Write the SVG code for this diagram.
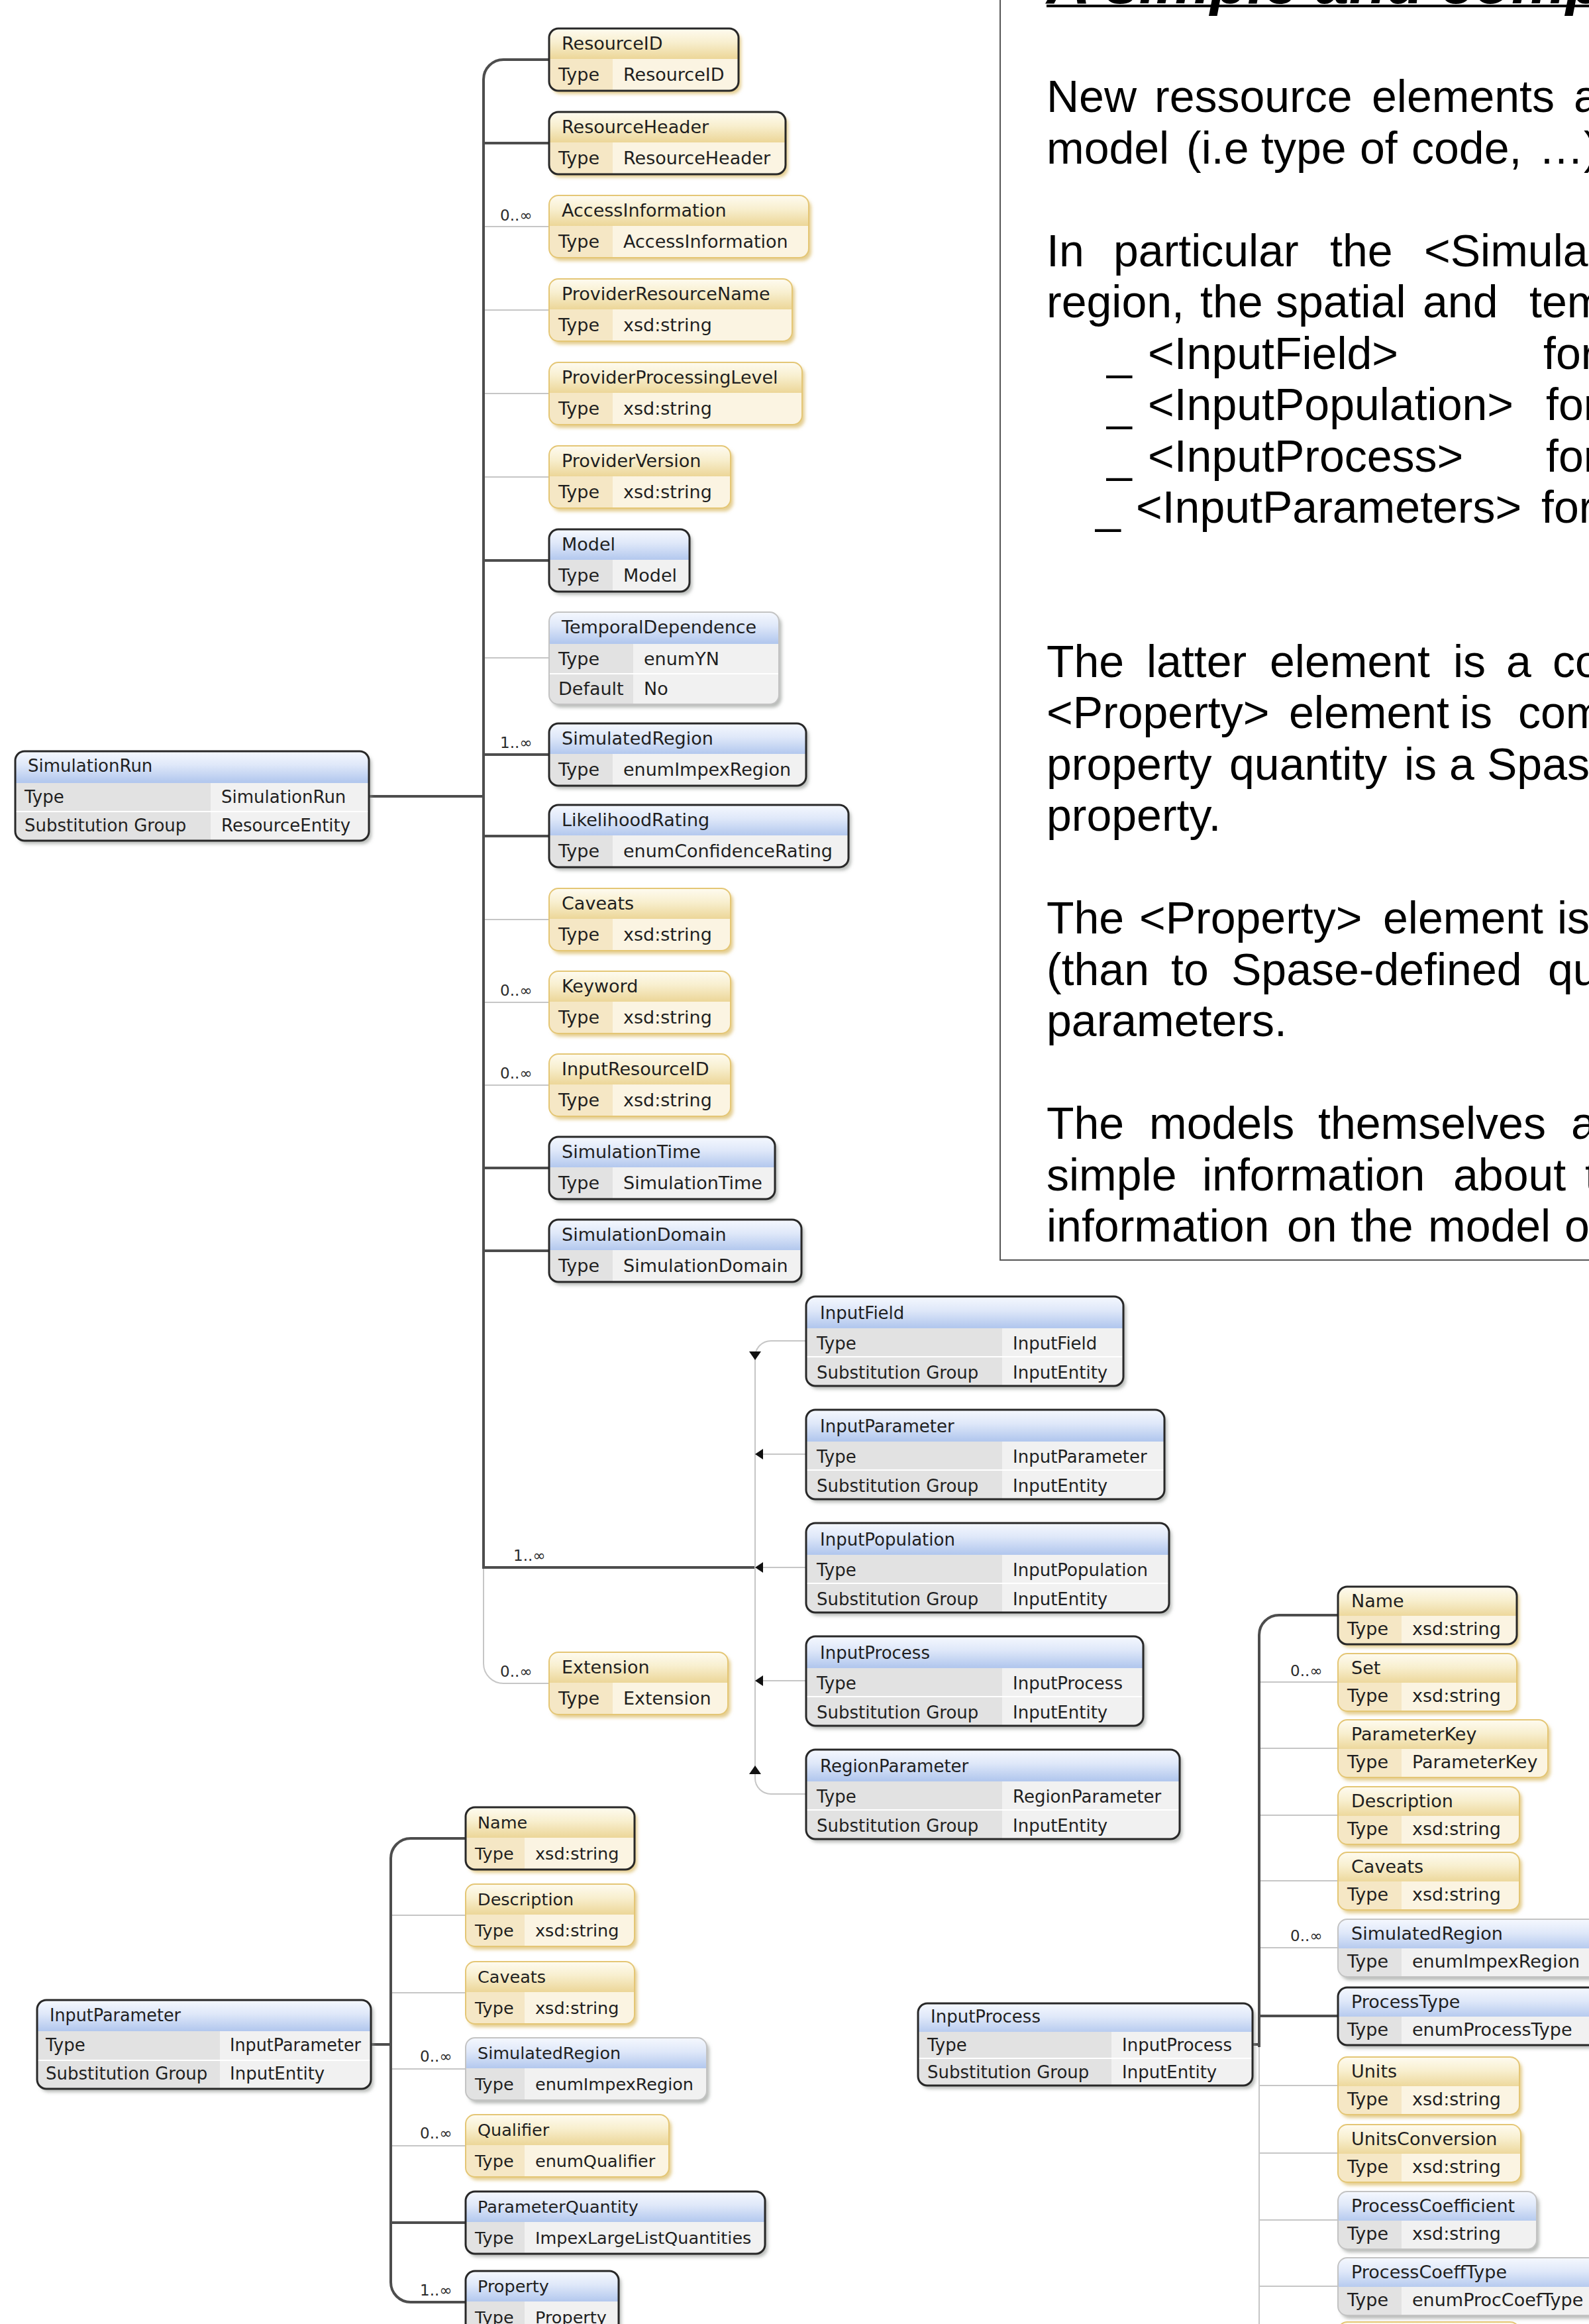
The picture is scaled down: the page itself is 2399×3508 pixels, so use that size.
<svg xmlns="http://www.w3.org/2000/svg" width="2399" height="3508" viewBox="0 0 2399 3508">
<defs>
<style>
.node text{font-family:"DejaVu Sans","Liberation Sans",sans-serif;font-size:27px;fill:#1f1f1f}
.s text{font-size:26px}
.s2 text{font-size:25.5px}
.y .base{fill:#fbf4e2;filter:url(#sy)}
.b .base{fill:#f1f1f1;filter:url(#sb)}
.y .hd{fill:url(#gy)}
.b .hd{fill:url(#gb)}
.y .lc{fill:#f5e7c5}
.b .lc{fill:#e2e2e2}
.bd{fill:none}
.r .bd{stroke:#282828;stroke-width:3}
.y.o .bd{stroke:#e4c675;stroke-width:2}
.b.o .bd{stroke:#c3c3c3;stroke-width:2}
.sep{stroke:#ffffff;stroke-width:2}
.thick{fill:none;stroke:#4d4d4d;stroke-width:4}
.thin{fill:none;stroke:#c6c6c6;stroke-width:2}
.arr{fill:#111}
.card{font-family:"DejaVu Sans",sans-serif;font-size:23px;fill:#2a2a2a}
.body{font-family:"Liberation Sans",Arial,sans-serif;font-size:68px;fill:#000}
.title{font-family:"Liberation Sans",Arial,sans-serif;font-size:92px;font-weight:bold;font-style:italic;fill:#000}
</style>
<linearGradient id="gy" gradientUnits="userSpaceOnUse" x1="0" y1="0" x2="0" y2="46">
<stop offset="0" stop-color="#fefbf0"/><stop offset="0.45" stop-color="#f8efcf"/><stop offset="1" stop-color="#ecd698"/>
</linearGradient>
<linearGradient id="gb" gradientUnits="userSpaceOnUse" x1="0" y1="0" x2="0" y2="46">
<stop offset="0" stop-color="#f5f8fe"/><stop offset="0.45" stop-color="#dfe8f9"/><stop offset="1" stop-color="#b3c8ee"/>
</linearGradient>
<filter id="sy" x="-10%" y="-10%" width="125%" height="130%"><feDropShadow dx="4" dy="5" stdDeviation="2.5" flood-color="#d9b860" flood-opacity="0.7"/></filter>
<filter id="sb" x="-10%" y="-10%" width="125%" height="130%"><feDropShadow dx="4" dy="5" stdDeviation="2.5" flood-color="#8a8f8a" flood-opacity="0.6"/></filter>
<path id="L1" d="M0,46h96v48h-82a14,14 0 0 1 -14,-14z"/>
<path id="L2" d="M0,48h127v91h-113a14,14 0 0 1 -14,-14z"/>
<path id="L3" d="M0,48h295v87h-281a14,14 0 0 1 -14,-14z"/>
<path id="L4" d="M0,48h296v87h-282a14,14 0 0 1 -14,-14z"/>
<path id="L5" d="M0,47h276v87h-262a14,14 0 0 1 -14,-14z"/>
<path id="L6" d="M0,46h89v48h-75a14,14 0 0 1 -14,-14z"/>
<path id="L7" d="M0,43h292v81h-278a14,14 0 0 1 -14,-14z"/>
<path id="L8" d="M0,44h96v43h-82a14,14 0 0 1 -14,-14z"/>
</defs>
<rect width="2399" height="3508" fill="#ffffff"/>

<g id="text-panel">
<path d="M1510,0V1902H2399" fill="none" stroke="#555" stroke-width="2"/>
<text class="title" x="1580" y="5">A simple and comp</text>
<rect x="1580" y="7" width="819" height="4" fill="#000"/>
<text class="body" y="169"><tspan x="1580">New</tspan><tspan x="1743">ressource</tspan><tspan x="2071">elements</tspan><tspan x="2376">a</tspan></text>
<text class="body" y="246.5"><tspan x="1580">model</tspan><tspan x="1791">(i.e</tspan><tspan x="1904">type</tspan><tspan x="2053">of</tspan><tspan x="2131">code,</tspan><tspan x="2323">…)</tspan></text>
<text class="body" y="401.5"><tspan x="1580">In</tspan><tspan x="1681">particular</tspan><tspan x="2008">the</tspan><tspan x="2150">&lt;Simula</tspan></text>
<text class="body" y="479"><tspan x="1580">region,</tspan><tspan x="1812">the</tspan><tspan x="1926">spatial</tspan><tspan x="2148">and</tspan><tspan x="2309">tem</tspan></text>
<text class="body" y="556.5"><tspan x="1671">_</tspan><tspan x="1733">&lt;InputField&gt;</tspan><tspan x="2330">for</tspan></text>
<text class="body" y="634"><tspan x="1671">_</tspan><tspan x="1733">&lt;InputPopulation&gt;</tspan><tspan x="2334">for</tspan></text>
<text class="body" y="711.5"><tspan x="1671">_</tspan><tspan x="1733">&lt;InputProcess&gt;</tspan><tspan x="2334">for</tspan></text>
<text class="body" y="789"><tspan x="1654">_</tspan><tspan x="1715">&lt;InputParameters&gt;</tspan><tspan x="2327">for</tspan></text>
<text class="body" y="1021.5"><tspan x="1580">The</tspan><tspan x="1731">latter</tspan><tspan x="1917">element</tspan><tspan x="2194">is</tspan><tspan x="2274">a</tspan><tspan x="2344">co</tspan></text>
<text class="body" y="1099"><tspan x="1580">&lt;Property&gt;</tspan><tspan x="1946">element</tspan><tspan x="2204">is</tspan><tspan x="2292">com</tspan></text>
<text class="body" y="1176.5"><tspan x="1580">property</tspan><tspan x="1856">quantity</tspan><tspan x="2120">is</tspan><tspan x="2188">a</tspan><tspan x="2245">Spas</tspan></text>
<text class="body" y="1254"><tspan x="1580">property.</tspan></text>
<text class="body" y="1409"><tspan x="1580">The</tspan><tspan x="1720">&lt;Property&gt;</tspan><tspan x="2088">element</tspan><tspan x="2351">is</tspan></text>
<text class="body" y="1486.5"><tspan x="1580">(than</tspan><tspan x="1768">to</tspan><tspan x="1859">Spase-defined</tspan><tspan x="2337">qu</tspan></text>
<text class="body" y="1564"><tspan x="1580">parameters.</tspan></text>
<text class="body" y="1719"><tspan x="1580">The</tspan><tspan x="1735">models</tspan><tspan x="1990">themselves</tspan><tspan x="2372">a</tspan></text>
<text class="body" y="1796.5"><tspan x="1580">simple</tspan><tspan x="1815">information</tspan><tspan x="2194">about</tspan><tspan x="2393">t</tspan></text>
<text class="body" y="1874"><tspan x="1580">information</tspan><tspan x="1943">on</tspan><tspan x="2039">the</tspan><tspan x="2156">model</tspan><tspan x="2362">o</tspan></text>
</g>

<g id="connectors">
<path class="thin" d="M730,342H829M730,468H829M730,594H829M730,720H829M730,993H829M730,1388H829M730,1513H829M730,1638H829"/>
<path class="thin" d="M730,2366V2511A30,30 0 0 0 760,2541H829"/>
<path class="thick" d="M829,90H760A30,30 0 0 0 730,120V2366H1139"/>
<path class="thick" d="M730,216H829M730,846H829M730,1139H829M730,1262H829M730,1763H829M730,1888H829M557,1202H730"/>
<path class="thin" d="M1217,2024H1164A24,24 0 0 0 1140,2048V2684A24,24 0 0 0 1164,2708H1217"/>
<path class="thin" d="M1150,2195H1217M1150,2366H1217M1150,2537H1217"/>
<polygon class="arr" points="1131,2040 1149,2040 1140,2053"/>
<polygon class="arr" points="1140,2195 1152,2187 1152,2203"/>
<polygon class="arr" points="1140,2366 1152,2358 1152,2374"/>
<polygon class="arr" points="1140,2537 1152,2529 1152,2545"/>
<polygon class="arr" points="1131,2678 1149,2678 1140,2665"/>
<path class="thin" d="M590,2891H703M590,3008H703M590,3123H703M590,3239H703"/>
<path class="thick" d="M703,2775H620A30,30 0 0 0 590,2805V3445A30,30 0 0 0 620,3475H703"/>
<path class="thick" d="M590,3355H703M560,3086H590"/>
<path class="thin" d="M1901,3090V3508M1901,2539H2020M1901,2639H2020M1901,2740H2020M1901,2839H2020M1901,2940H2020M1901,3148H2020M1901,3250H2020M1901,3351H2020M1901,3451H2020"/>
<path class="thick" d="M2020,2438H1931A30,30 0 0 0 1901,2468V3090"/>
<path class="thick" d="M1901,3043H2020M1891,3086H1901"/>
</g>

<g id="cardinalities">
<text class="card" x="755" y="333">0..∞</text>
<text class="card" x="755" y="1129">1..∞</text>
<text class="card" x="755" y="1503">0..∞</text>
<text class="card" x="755" y="1628">0..∞</text>
<text class="card" x="775" y="2356">1..∞</text>
<text class="card" x="755" y="2531">0..∞</text>
<text class="card" x="634" y="3112">0..∞</text>
<text class="card" x="634" y="3228">0..∞</text>
<text class="card" x="634" y="3465">1..∞</text>
<text class="card" x="1948" y="2530">0..∞</text>
<text class="card" x="1948" y="2930">0..∞</text>
</g>

<g id="node-SimulationRun" class="node b r s" transform="translate(23,1134)">
<rect class="base" width="534" height="135" rx="14"/>
<path class="hd" d="M0,48V14a14,14 0 0 1 14,-14H520a14,14 0 0 1 14,14V48z"/>
<use href="#L3" class="lc"/>
<path class="sep" d="M0,91H534"/>
<rect class="bd" width="534" height="135" rx="14"/>
<text x="19" y="31">SimulationRun</text>
<text x="14" y="78">Type</text><text x="311" y="78">SimulationRun</text>
<text x="14" y="121">Substitution Group</text><text x="311" y="121">ResourceEntity</text>
</g>

<g id="node-ResourceID" class="node y r" transform="translate(829,43)">
<rect class="base" width="286" height="94" rx="14"/>
<path class="hd" d="M0,46V14a14,14 0 0 1 14,-14H272a14,14 0 0 1 14,14V46z"/>
<use href="#L1" class="lc"/>
<rect class="bd" width="286" height="94" rx="14"/>
<text x="19" y="32">ResourceID</text><text x="14" y="79">Type</text><text x="112" y="79">ResourceID</text>
</g>
<g id="node-ResourceHeader" class="node y r" transform="translate(829,169)">
<rect class="base" width="357" height="94" rx="14"/>
<path class="hd" d="M0,46V14a14,14 0 0 1 14,-14H343a14,14 0 0 1 14,14V46z"/>
<use href="#L1" class="lc"/>
<rect class="bd" width="357" height="94" rx="14"/>
<text x="19" y="32">ResourceHeader</text><text x="14" y="79">Type</text><text x="112" y="79">ResourceHeader</text>
</g>
<g id="node-AccessInformation" class="node y o" transform="translate(829,295)">
<rect class="base" width="392" height="94" rx="14"/>
<path class="hd" d="M0,46V14a14,14 0 0 1 14,-14H378a14,14 0 0 1 14,14V46z"/>
<use href="#L1" class="lc"/>
<rect class="bd" width="392" height="94" rx="14"/>
<text x="19" y="32">AccessInformation</text><text x="14" y="79">Type</text><text x="112" y="79">AccessInformation</text>
</g>
<g id="node-ProviderResourceName" class="node y o" transform="translate(829,421)">
<rect class="base" width="367" height="94" rx="14"/>
<path class="hd" d="M0,46V14a14,14 0 0 1 14,-14H353a14,14 0 0 1 14,14V46z"/>
<use href="#L1" class="lc"/>
<rect class="bd" width="367" height="94" rx="14"/>
<text x="19" y="32">ProviderResourceName</text><text x="14" y="79">Type</text><text x="112" y="79">xsd:string</text>
</g>
<g id="node-ProviderProcessingLevel" class="node y o" transform="translate(829,547)">
<rect class="base" width="382" height="94" rx="14"/>
<path class="hd" d="M0,46V14a14,14 0 0 1 14,-14H368a14,14 0 0 1 14,14V46z"/>
<use href="#L1" class="lc"/>
<rect class="bd" width="382" height="94" rx="14"/>
<text x="19" y="32">ProviderProcessingLevel</text><text x="14" y="79">Type</text><text x="112" y="79">xsd:string</text>
</g>
<g id="node-ProviderVersion" class="node y o" transform="translate(829,673)">
<rect class="base" width="274" height="94" rx="14"/>
<path class="hd" d="M0,46V14a14,14 0 0 1 14,-14H260a14,14 0 0 1 14,14V46z"/>
<use href="#L1" class="lc"/>
<rect class="bd" width="274" height="94" rx="14"/>
<text x="19" y="32">ProviderVersion</text><text x="14" y="79">Type</text><text x="112" y="79">xsd:string</text>
</g>
<g id="node-Model" class="node b r" transform="translate(829,799)">
<rect class="base" width="212" height="94" rx="14"/>
<path class="hd" d="M0,46V14a14,14 0 0 1 14,-14H198a14,14 0 0 1 14,14V46z"/>
<use href="#L1" class="lc"/>
<rect class="bd" width="212" height="94" rx="14"/>
<text x="19" y="32">Model</text><text x="14" y="79">Type</text><text x="112" y="79">Model</text>
</g>
<g id="node-TemporalDependence" class="node b o" transform="translate(829,924)">
<rect class="base" width="347" height="139" rx="14"/>
<path class="hd" d="M0,48V14a14,14 0 0 1 14,-14H333a14,14 0 0 1 14,14V48z"/>
<use href="#L2" class="lc"/>
<path class="sep" d="M0,93H347"/>
<rect class="bd" width="347" height="139" rx="14"/>
<text x="19" y="32">TemporalDependence</text>
<text x="14" y="80">Type</text><text x="143" y="80">enumYN</text>
<text x="14" y="125">Default</text><text x="143" y="125">No</text>
</g>
<g id="node-SimulatedRegion" class="node b r" transform="translate(829,1092)">
<rect class="base" width="388" height="94" rx="14"/>
<path class="hd" d="M0,46V14a14,14 0 0 1 14,-14H374a14,14 0 0 1 14,14V46z"/>
<use href="#L1" class="lc"/>
<rect class="bd" width="388" height="94" rx="14"/>
<text x="19" y="32">SimulatedRegion</text><text x="14" y="79">Type</text><text x="112" y="79">enumImpexRegion</text>
</g>
<g id="node-LikelihoodRating" class="node b r" transform="translate(829,1215)">
<rect class="base" width="452" height="94" rx="14"/>
<path class="hd" d="M0,46V14a14,14 0 0 1 14,-14H438a14,14 0 0 1 14,14V46z"/>
<use href="#L1" class="lc"/>
<rect class="bd" width="452" height="94" rx="14"/>
<text x="19" y="32">LikelihoodRating</text><text x="14" y="79">Type</text><text x="112" y="79">enumConfidenceRating</text>
</g>
<g id="node-Caveats" class="node y o" transform="translate(829,1341)">
<rect class="base" width="274" height="94" rx="14"/>
<path class="hd" d="M0,46V14a14,14 0 0 1 14,-14H260a14,14 0 0 1 14,14V46z"/>
<use href="#L1" class="lc"/>
<rect class="bd" width="274" height="94" rx="14"/>
<text x="19" y="32">Caveats</text><text x="14" y="79">Type</text><text x="112" y="79">xsd:string</text>
</g>
<g id="node-Keyword" class="node y o" transform="translate(829,1466)">
<rect class="base" width="274" height="94" rx="14"/>
<path class="hd" d="M0,46V14a14,14 0 0 1 14,-14H260a14,14 0 0 1 14,14V46z"/>
<use href="#L1" class="lc"/>
<rect class="bd" width="274" height="94" rx="14"/>
<text x="19" y="32">Keyword</text><text x="14" y="79">Type</text><text x="112" y="79">xsd:string</text>
</g>
<g id="node-InputResourceID" class="node y o" transform="translate(829,1591)">
<rect class="base" width="274" height="94" rx="14"/>
<path class="hd" d="M0,46V14a14,14 0 0 1 14,-14H260a14,14 0 0 1 14,14V46z"/>
<use href="#L1" class="lc"/>
<rect class="bd" width="274" height="94" rx="14"/>
<text x="19" y="32">InputResourceID</text><text x="14" y="79">Type</text><text x="112" y="79">xsd:string</text>
</g>
<g id="node-SimulationTime" class="node b r" transform="translate(829,1716)">
<rect class="base" width="341" height="94" rx="14"/>
<path class="hd" d="M0,46V14a14,14 0 0 1 14,-14H327a14,14 0 0 1 14,14V46z"/>
<use href="#L1" class="lc"/>
<rect class="bd" width="341" height="94" rx="14"/>
<text x="19" y="32">SimulationTime</text><text x="14" y="79">Type</text><text x="112" y="79">SimulationTime</text>
</g>
<g id="node-SimulationDomain" class="node b r" transform="translate(829,1841)">
<rect class="base" width="381" height="94" rx="14"/>
<path class="hd" d="M0,46V14a14,14 0 0 1 14,-14H367a14,14 0 0 1 14,14V46z"/>
<use href="#L1" class="lc"/>
<rect class="bd" width="381" height="94" rx="14"/>
<text x="19" y="32">SimulationDomain</text><text x="14" y="79">Type</text><text x="112" y="79">SimulationDomain</text>
</g>
<g id="node-Extension" class="node y o" transform="translate(829,2494)">
<rect class="base" width="270" height="94" rx="14"/>
<path class="hd" d="M0,46V14a14,14 0 0 1 14,-14H256a14,14 0 0 1 14,14V46z"/>
<use href="#L1" class="lc"/>
<rect class="bd" width="270" height="94" rx="14"/>
<text x="19" y="32">Extension</text><text x="14" y="79">Type</text><text x="112" y="79">Extension</text>
</g>

<g id="choice-InputField" class="node b r s" transform="translate(1217,1957)">
<rect class="base" width="479" height="135" rx="14"/>
<path class="hd" d="M0,48V14a14,14 0 0 1 14,-14H465a14,14 0 0 1 14,14V48z"/>
<use href="#L4" class="lc"/>
<path class="sep" d="M0,91H479"/>
<rect class="bd" width="479" height="135" rx="14"/>
<text x="21" y="34">InputField</text>
<text x="16" y="80">Type</text><text x="312" y="80">InputField</text>
<text x="16" y="124">Substitution Group</text><text x="312" y="124">InputEntity</text>
</g>
<g id="choice-InputParameter" class="node b r s" transform="translate(1217,2128)">
<rect class="base" width="541" height="135" rx="14"/>
<path class="hd" d="M0,48V14a14,14 0 0 1 14,-14H527a14,14 0 0 1 14,14V48z"/>
<use href="#L4" class="lc"/>
<path class="sep" d="M0,91H541"/>
<rect class="bd" width="541" height="135" rx="14"/>
<text x="21" y="34">InputParameter</text>
<text x="16" y="80">Type</text><text x="312" y="80">InputParameter</text>
<text x="16" y="124">Substitution Group</text><text x="312" y="124">InputEntity</text>
</g>
<g id="choice-InputPopulation" class="node b r s" transform="translate(1217,2299)">
<rect class="base" width="548" height="135" rx="14"/>
<path class="hd" d="M0,48V14a14,14 0 0 1 14,-14H534a14,14 0 0 1 14,14V48z"/>
<use href="#L4" class="lc"/>
<path class="sep" d="M0,91H548"/>
<rect class="bd" width="548" height="135" rx="14"/>
<text x="21" y="34">InputPopulation</text>
<text x="16" y="80">Type</text><text x="312" y="80">InputPopulation</text>
<text x="16" y="124">Substitution Group</text><text x="312" y="124">InputEntity</text>
</g>
<g id="choice-InputProcess" class="node b r s" transform="translate(1217,2470)">
<rect class="base" width="509" height="135" rx="14"/>
<path class="hd" d="M0,48V14a14,14 0 0 1 14,-14H495a14,14 0 0 1 14,14V48z"/>
<use href="#L4" class="lc"/>
<path class="sep" d="M0,91H509"/>
<rect class="bd" width="509" height="135" rx="14"/>
<text x="21" y="34">InputProcess</text>
<text x="16" y="80">Type</text><text x="312" y="80">InputProcess</text>
<text x="16" y="124">Substitution Group</text><text x="312" y="124">InputEntity</text>
</g>
<g id="choice-RegionParameter" class="node b r s" transform="translate(1217,2641)">
<rect class="base" width="564" height="135" rx="14"/>
<path class="hd" d="M0,48V14a14,14 0 0 1 14,-14H550a14,14 0 0 1 14,14V48z"/>
<use href="#L4" class="lc"/>
<path class="sep" d="M0,91H564"/>
<rect class="bd" width="564" height="135" rx="14"/>
<text x="21" y="34">RegionParameter</text>
<text x="16" y="80">Type</text><text x="312" y="80">RegionParameter</text>
<text x="16" y="124">Substitution Group</text><text x="312" y="124">InputEntity</text>
</g>

<g id="ip-InputParameter" class="node b r s" transform="translate(56,3019)">
<rect class="base" width="504" height="134" rx="14"/>
<path class="hd" d="M0,47V14a14,14 0 0 1 14,-14H490a14,14 0 0 1 14,14V47z"/>
<use href="#L5" class="lc"/>
<path class="sep" d="M0,91H504"/>
<rect class="bd" width="504" height="134" rx="14"/>
<text x="19" y="32" textLength="198" lengthAdjust="spacingAndGlyphs">InputParameter</text>
<text x="13" y="77">Type</text><text x="291" y="77" textLength="198" lengthAdjust="spacingAndGlyphs">InputParameter</text>
<text x="13" y="120">Substitution Group</text><text x="291" y="120">InputEntity</text>
</g>
<g id="ip-Name" class="node y r s2" transform="translate(703,2728)">
<rect class="base" width="255" height="94" rx="14"/>
<path class="hd" d="M0,46V14a14,14 0 0 1 14,-14H241a14,14 0 0 1 14,14V46z"/>
<use href="#L6" class="lc"/>
<rect class="bd" width="255" height="94" rx="14"/>
<text x="18" y="32">Name</text><text x="14" y="79">Type</text><text x="105" y="79">xsd:string</text>
</g>
<g id="ip-Description" class="node y o s2" transform="translate(703,2844)">
<rect class="base" width="255" height="94" rx="14"/>
<path class="hd" d="M0,46V14a14,14 0 0 1 14,-14H241a14,14 0 0 1 14,14V46z"/>
<use href="#L6" class="lc"/>
<rect class="bd" width="255" height="94" rx="14"/>
<text x="18" y="32">Description</text><text x="14" y="79">Type</text><text x="105" y="79">xsd:string</text>
</g>
<g id="ip-Caveats" class="node y o s2" transform="translate(703,2961)">
<rect class="base" width="255" height="94" rx="14"/>
<path class="hd" d="M0,46V14a14,14 0 0 1 14,-14H241a14,14 0 0 1 14,14V46z"/>
<use href="#L6" class="lc"/>
<rect class="bd" width="255" height="94" rx="14"/>
<text x="18" y="32">Caveats</text><text x="14" y="79">Type</text><text x="105" y="79">xsd:string</text>
</g>
<g id="ip-SimulatedRegion" class="node b o s2" transform="translate(703,3076)">
<rect class="base" width="364" height="94" rx="14"/>
<path class="hd" d="M0,46V14a14,14 0 0 1 14,-14H350a14,14 0 0 1 14,14V46z"/>
<use href="#L6" class="lc"/>
<rect class="bd" width="364" height="94" rx="14"/>
<text x="18" y="32">SimulatedRegion</text><text x="14" y="79">Type</text><text x="105" y="79">enumImpexRegion</text>
</g>
<g id="ip-Qualifier" class="node y o s2" transform="translate(703,3192)">
<rect class="base" width="307" height="94" rx="14"/>
<path class="hd" d="M0,46V14a14,14 0 0 1 14,-14H293a14,14 0 0 1 14,14V46z"/>
<use href="#L6" class="lc"/>
<rect class="bd" width="307" height="94" rx="14"/>
<text x="18" y="32">Qualifier</text><text x="14" y="79">Type</text><text x="105" y="79">enumQualifier</text>
</g>
<g id="ip-ParameterQuantity" class="node b r s2" transform="translate(703,3308)">
<rect class="base" width="452" height="94" rx="14"/>
<path class="hd" d="M0,46V14a14,14 0 0 1 14,-14H438a14,14 0 0 1 14,14V46z"/>
<use href="#L6" class="lc"/>
<rect class="bd" width="452" height="94" rx="14"/>
<text x="18" y="32">ParameterQuantity</text><text x="14" y="79">Type</text><text x="105" y="79">ImpexLargeListQuantities</text>
</g>
<g id="ip-Property" class="node b r s2" transform="translate(703,3428)">
<rect class="base" width="231" height="94" rx="14"/>
<path class="hd" d="M0,46V14a14,14 0 0 1 14,-14H217a14,14 0 0 1 14,14V46z"/>
<use href="#L6" class="lc"/>
<rect class="bd" width="231" height="94" rx="14"/>
<text x="18" y="32">Property</text><text x="14" y="79">Type</text><text x="105" y="79">Property</text>
</g>

<g id="iproc-InputProcess" class="node b r s" transform="translate(1386,3024)">
<rect class="base" width="505" height="124" rx="14"/>
<path class="hd" d="M0,43V14a14,14 0 0 1 14,-14H491a14,14 0 0 1 14,14V43z"/>
<use href="#L7" class="lc"/>
<path class="sep" d="M0,83H505"/>
<rect class="bd" width="505" height="124" rx="14"/>
<text x="19" y="29">InputProcess</text>
<text x="14" y="72">Type</text><text x="308" y="72">InputProcess</text>
<text x="14" y="113">Substitution Group</text><text x="308" y="113">InputEntity</text>
</g>
<g id="iproc-Name" class="node y r" transform="translate(2020,2395)">
<rect class="base" width="270" height="87" rx="14"/>
<path class="hd" d="M0,44V14a14,14 0 0 1 14,-14H256a14,14 0 0 1 14,14V44z"/>
<use href="#L8" class="lc"/>
<rect class="bd" width="270" height="87" rx="14"/>
<text x="20" y="31">Name</text><text x="14" y="73">Type</text><text x="112" y="73">xsd:string</text>
</g>
<g id="iproc-Set" class="node y o" transform="translate(2020,2496)">
<rect class="base" width="270" height="87" rx="14"/>
<path class="hd" d="M0,44V14a14,14 0 0 1 14,-14H256a14,14 0 0 1 14,14V44z"/>
<use href="#L8" class="lc"/>
<rect class="bd" width="270" height="87" rx="14"/>
<text x="20" y="31">Set</text><text x="14" y="73">Type</text><text x="112" y="73">xsd:string</text>
</g>
<g id="iproc-ParameterKey" class="node y o" transform="translate(2020,2596)">
<rect class="base" width="317" height="87" rx="14"/>
<path class="hd" d="M0,44V14a14,14 0 0 1 14,-14H303a14,14 0 0 1 14,14V44z"/>
<use href="#L8" class="lc"/>
<rect class="bd" width="317" height="87" rx="14"/>
<text x="20" y="31">ParameterKey</text><text x="14" y="73">Type</text><text x="112" y="73">ParameterKey</text>
</g>
<g id="iproc-Description" class="node y o" transform="translate(2020,2697)">
<rect class="base" width="274" height="87" rx="14"/>
<path class="hd" d="M0,44V14a14,14 0 0 1 14,-14H260a14,14 0 0 1 14,14V44z"/>
<use href="#L8" class="lc"/>
<rect class="bd" width="274" height="87" rx="14"/>
<text x="20" y="31">Description</text><text x="14" y="73">Type</text><text x="112" y="73">xsd:string</text>
</g>
<g id="iproc-Caveats" class="node y o" transform="translate(2020,2796)">
<rect class="base" width="274" height="87" rx="14"/>
<path class="hd" d="M0,44V14a14,14 0 0 1 14,-14H260a14,14 0 0 1 14,14V44z"/>
<use href="#L8" class="lc"/>
<rect class="bd" width="274" height="87" rx="14"/>
<text x="20" y="31">Caveats</text><text x="14" y="73">Type</text><text x="112" y="73">xsd:string</text>
</g>
<g id="iproc-SimulatedRegion" class="node b o" transform="translate(2020,2897)">
<rect class="base" width="392" height="87" rx="14"/>
<path class="hd" d="M0,44V14a14,14 0 0 1 14,-14H378a14,14 0 0 1 14,14V44z"/>
<use href="#L8" class="lc"/>
<rect class="bd" width="392" height="87" rx="14"/>
<text x="20" y="31">SimulatedRegion</text><text x="14" y="73">Type</text><text x="112" y="73">enumImpexRegion</text>
</g>
<g id="iproc-ProcessType" class="node b r" transform="translate(2020,3000)">
<rect class="base" width="392" height="87" rx="14"/>
<path class="hd" d="M0,44V14a14,14 0 0 1 14,-14H378a14,14 0 0 1 14,14V44z"/>
<use href="#L8" class="lc"/>
<rect class="bd" width="392" height="87" rx="14"/>
<text x="20" y="31">ProcessType</text><text x="14" y="73">Type</text><text x="112" y="73">enumProcessType</text>
</g>
<g id="iproc-Units" class="node y o" transform="translate(2020,3105)">
<rect class="base" width="274" height="87" rx="14"/>
<path class="hd" d="M0,44V14a14,14 0 0 1 14,-14H260a14,14 0 0 1 14,14V44z"/>
<use href="#L8" class="lc"/>
<rect class="bd" width="274" height="87" rx="14"/>
<text x="20" y="31">Units</text><text x="14" y="73">Type</text><text x="112" y="73">xsd:string</text>
</g>
<g id="iproc-UnitsConversion" class="node y o" transform="translate(2020,3207)">
<rect class="base" width="276" height="87" rx="14"/>
<path class="hd" d="M0,44V14a14,14 0 0 1 14,-14H262a14,14 0 0 1 14,14V44z"/>
<use href="#L8" class="lc"/>
<rect class="bd" width="276" height="87" rx="14"/>
<text x="20" y="31">UnitsConversion</text><text x="14" y="73">Type</text><text x="112" y="73">xsd:string</text>
</g>
<g id="iproc-ProcessCoefficient" class="node b o" transform="translate(2020,3308)">
<rect class="base" width="300" height="87" rx="14"/>
<path class="hd" d="M0,44V14a14,14 0 0 1 14,-14H286a14,14 0 0 1 14,14V44z"/>
<use href="#L8" class="lc"/>
<rect class="bd" width="300" height="87" rx="14"/>
<text x="20" y="31">ProcessCoefficient</text><text x="14" y="73">Type</text><text x="112" y="73">xsd:string</text>
</g>
<g id="iproc-ProcessCoeffType" class="node b o" transform="translate(2020,3408)">
<rect class="base" width="420" height="87" rx="14"/>
<path class="hd" d="M0,44V14a14,14 0 0 1 14,-14H406a14,14 0 0 1 14,14V44z"/>
<use href="#L8" class="lc"/>
<rect class="bd" width="420" height="87" rx="14"/>
<text x="20" y="31">ProcessCoeffType</text><text x="14" y="73">Type</text><text x="112" y="73">enumProcCoefType</text>
</g>
<g id="iproc-next" class="node y o" transform="translate(2020,3505)">
<rect class="base" width="274" height="87" rx="14"/>
<path class="hd" d="M0,44V14a14,14 0 0 1 14,-14H260a14,14 0 0 1 14,14V44z"/>
<rect class="bd" width="274" height="87" rx="14"/>
</g>
</svg>
